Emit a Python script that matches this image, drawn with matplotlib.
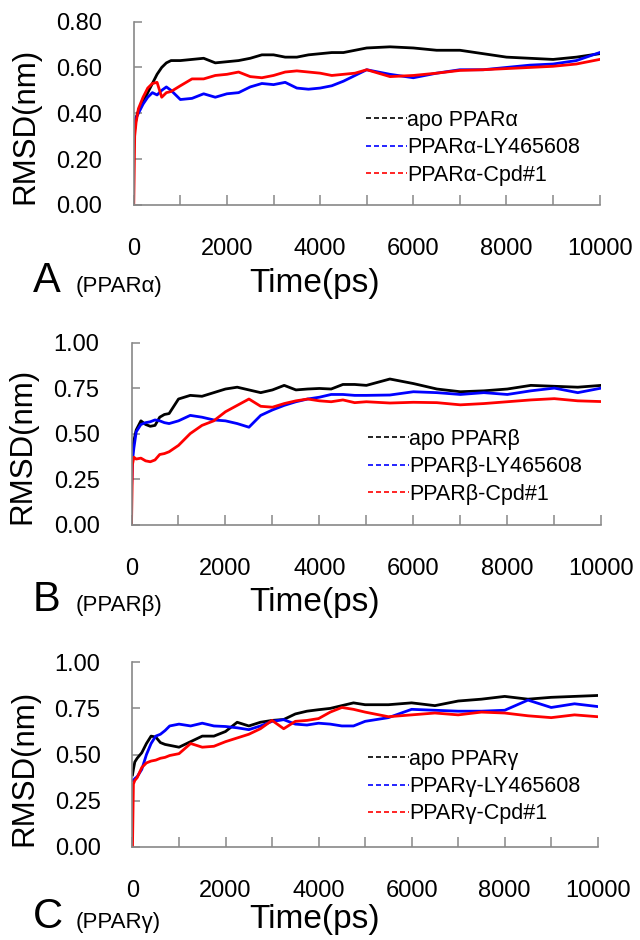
import matplotlib
matplotlib.use("Agg")
import matplotlib.pyplot as plt
from matplotlib.lines import Line2D
from matplotlib.ticker import MultipleLocator

plt.rcParams['font.family'] = ['Liberation Sans', 'DejaVu Sans']

# common time grid (ps)
t = [0, 20, 50, 100, 200, 300, 400, 500, 600, 700, 800, 1000, 1250, 1500, 1750,
     2000, 2250, 2500, 2750, 3000, 3250, 3500, 3750, 4000, 4250, 4500, 4750,
     5000, 5500, 6000, 6500, 7000, 7500, 8000, 8500, 9000, 9500, 10000]

# PPAR alpha
a_apo = [0.30, 0.33, 0.38, 0.41, 0.45, 0.49, 0.53, 0.57, 0.60, 0.62, 0.63, 0.63, 0.635, 0.64, 0.62,
         0.625, 0.63, 0.64, 0.655, 0.655, 0.645, 0.645, 0.655, 0.66, 0.665, 0.665, 0.675,
         0.685, 0.69, 0.685, 0.675, 0.675, 0.66, 0.645, 0.64, 0.635, 0.645, 0.66]
a_ly = [0.30, 0.34, 0.38, 0.40, 0.44, 0.47, 0.49, 0.48, 0.50, 0.515, 0.50, 0.46, 0.465, 0.485, 0.47,
        0.485, 0.49, 0.515, 0.53, 0.525, 0.535, 0.51, 0.505, 0.51, 0.52, 0.54, 0.565,
        0.59, 0.57, 0.555, 0.575, 0.59, 0.59, 0.60, 0.61, 0.615, 0.63, 0.665]
a_cpd = [0.0, 0.30, 0.36, 0.42, 0.47, 0.51, 0.53, 0.535, 0.47, 0.49, 0.495, 0.52, 0.55, 0.55, 0.565,
         0.57, 0.58, 0.56, 0.555, 0.565, 0.58, 0.585, 0.58, 0.575, 0.565, 0.57, 0.575,
         0.59, 0.56, 0.565, 0.575, 0.587, 0.59, 0.595, 0.60, 0.605, 0.615, 0.635]

# PPAR beta
b_apo = [0.38, 0.42, 0.46, 0.52, 0.57, 0.55, 0.54, 0.545, 0.59, 0.605, 0.61, 0.69, 0.71, 0.705, 0.725,
         0.745, 0.755, 0.74, 0.725, 0.74, 0.765, 0.74, 0.745, 0.748, 0.745, 0.77, 0.77,
         0.765, 0.80, 0.775, 0.745, 0.73, 0.735, 0.745, 0.765, 0.76, 0.755, 0.765]
b_ly = [0.20, 0.35, 0.42, 0.51, 0.55, 0.56, 0.565, 0.575, 0.57, 0.56, 0.555, 0.57, 0.60, 0.59, 0.575,
        0.57, 0.555, 0.535, 0.60, 0.63, 0.655, 0.675, 0.69, 0.70, 0.715, 0.715, 0.71,
        0.71, 0.712, 0.73, 0.725, 0.715, 0.725, 0.715, 0.735, 0.75, 0.725, 0.75]
b_cpd = [0.0, 0.33, 0.37, 0.36, 0.365, 0.35, 0.345, 0.355, 0.385, 0.39, 0.40, 0.435, 0.50, 0.545, 0.57,
         0.62, 0.655, 0.69, 0.65, 0.645, 0.665, 0.68, 0.69, 0.68, 0.675, 0.685, 0.67,
         0.675, 0.668, 0.672, 0.67, 0.658, 0.665, 0.675, 0.685, 0.692, 0.68, 0.676]

# PPAR gamma
g_apo = [0.39, 0.42, 0.46, 0.48, 0.51, 0.56, 0.60, 0.595, 0.565, 0.555, 0.55, 0.54, 0.57, 0.60, 0.60,
         0.625, 0.675, 0.655, 0.675, 0.685, 0.69, 0.72, 0.735, 0.743, 0.75, 0.765, 0.78,
         0.77, 0.77, 0.78, 0.765, 0.79, 0.80, 0.815, 0.80, 0.81, 0.815, 0.82]
g_ly = [0.36, 0.36, 0.37, 0.38, 0.42, 0.50, 0.56, 0.60, 0.61, 0.63, 0.655, 0.665, 0.655, 0.67, 0.655,
        0.652, 0.645, 0.635, 0.655, 0.68, 0.689, 0.665, 0.66, 0.67, 0.665, 0.655, 0.655,
        0.68, 0.70, 0.745, 0.74, 0.735, 0.735, 0.74, 0.795, 0.755, 0.775, 0.76]
g_cpd = [0.0, 0.34, 0.36, 0.375, 0.43, 0.455, 0.465, 0.47, 0.48, 0.485, 0.495, 0.505, 0.56, 0.54, 0.545,
         0.57, 0.59, 0.61, 0.64, 0.685, 0.64, 0.68, 0.685, 0.695, 0.73, 0.755, 0.745,
         0.73, 0.705, 0.715, 0.725, 0.715, 0.73, 0.725, 0.71, 0.70, 0.715, 0.705]

panels = [
    ("A", "(PPARα)", "α", [a_apo, a_ly, a_cpd], 0.8, 0.2, [0.209, 0.782, 0.728, 0.195], (0.499, 0.312), 87),
    ("B", "(PPARβ)", "β", [b_apo, b_ly, b_cpd], 1.0, 0.25, [0.2055, 0.442, 0.734, 0.1935], (0.504, 0.317), 86),
    ("C", "(PPARγ)", "γ", [g_apo, g_ly, g_cpd], 1.0, 0.25, [0.207, 0.099, 0.727, 0.1965], (0.507, 0.327), 81),
]
colors = ["black", "blue", "red"]
axcol = "#888888"

fig = plt.figure(figsize=(6.4, 9.4), dpi=100)

for letter, sub, gr, series, ymax, ystep, rect, legpos, drop in panels:
    ax = fig.add_axes(rect)
    for y, c in zip(series, colors):
        ax.plot(t, y, color=c, lw=2.0)
    ax.set_xlim(0, 10000)
    ax.set_ylim(0, ymax)
    ax.xaxis.set_major_locator(MultipleLocator(2000))
    ax.xaxis.set_minor_locator(MultipleLocator(1000))
    ax.yaxis.set_major_locator(MultipleLocator(ystep))
    ax.yaxis.set_major_formatter(matplotlib.ticker.FormatStrFormatter('%.2f'))
    for s in ["top", "right"]:
        ax.spines[s].set_visible(False)
    for s in ["left", "bottom"]:
        ax.spines[s].set_color(axcol)
        ax.spines[s].set_linewidth(1.2)
    ax.tick_params(axis="x", which="both", direction="in", length=7.5, width=1.1,
                   color=axcol, pad=24, labelsize=17)
    ax.tick_params(axis="y", direction="in", length=5.5, width=1.1,
                   color=axcol, pad=23, labelsize=17)
    ax.set_ylabel("RMSD(nm)", fontsize=22.5)
    ax.yaxis.set_label_coords(-0.2, 0.43)

    labels = ["apo PPAR" + gr, "PPAR" + gr + "-LY465608", "PPAR" + gr + "-Cpd#1"]
    handles = [Line2D([], [], color=c, lw=1.2, linestyle=(0, (3, 1.8))) for c in colors]
    ax.legend(handles, labels, loc="center left", bbox_to_anchor=legpos, frameon=False,
              fontsize=15.5, handlelength=1.9, handletextpad=0.0, labelspacing=0.3,
              borderpad=0, borderaxespad=0)

    # panel labels below the axis
    base = rect[1] - drop / 940
    fig.text(33 / 640, base, letter, fontsize=30, va="baseline")
    fig.text(76 / 640, base, sub, fontsize=16, va="baseline")
    fig.text(315 / 640, base, "Time(ps)", fontsize=24, va="baseline", ha="center")

fig.savefig("out.png", dpi=100)
